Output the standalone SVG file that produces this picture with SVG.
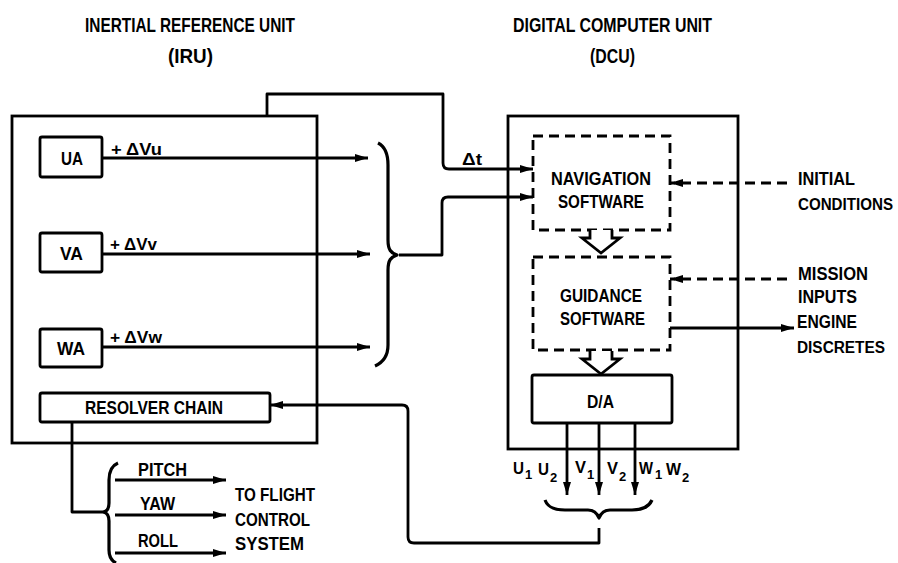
<svg xmlns="http://www.w3.org/2000/svg" width="898" height="563" viewBox="0 0 898 563">
<defs>
<style>
.t{font-family:"Liberation Sans",Arial,sans-serif;font-weight:bold;fill:#000;}
.big{font-size:20px;}
.lb{font-size:19px;}
.md{font-size:16px;}
.sm{font-size:17px;}
.ol{font-size:17px;}
.sub{font-size:13px;}
.box{fill:none;stroke:#000;stroke-width:2.8;}
.dbox{fill:none;stroke:#000;stroke-width:2.8;stroke-dasharray:10 6;}
.ln{fill:none;stroke:#000;stroke-width:2.8;stroke-linejoin:round;}
.dl{fill:none;stroke:#000;stroke-width:2.8;stroke-dasharray:10 6;}
.br{fill:none;stroke:#000;stroke-width:3.2;stroke-linejoin:round;}
.ha{fill:#fff;stroke:#000;stroke-width:2.8;stroke-linejoin:miter;}
</style>
<marker id="ah" markerUnits="userSpaceOnUse" markerWidth="14" markerHeight="10" refX="13" refY="4" orient="auto">
<path d="M0,0 L13,4 L0,8 z" fill="#000"/>
</marker>
</defs>
<rect width="898" height="563" fill="#fff"/>

<g id="titles">
<text class="t big" x="85" y="32" textLength="210" lengthAdjust="spacingAndGlyphs">INERTIAL REFERENCE UNIT</text>
<text class="t big" x="168" y="63" textLength="45" lengthAdjust="spacingAndGlyphs">(IRU)</text>
<text class="t big" x="513" y="32" textLength="199" lengthAdjust="spacingAndGlyphs">DIGITAL COMPUTER UNIT</text>
<text class="t big" x="590" y="63" textLength="45" lengthAdjust="spacingAndGlyphs">(DCU)</text>
</g>

<g id="iru">
<rect class="box" x="12" y="116" width="305" height="327"/>
</g>
<g id="ua">
<rect class="box" x="40" y="137" width="62" height="40" rx="2"/>
<text class="t lb" x="61" y="165" textLength="22" lengthAdjust="spacingAndGlyphs">UA</text>
</g>
<g id="va">
<rect class="box" x="40" y="233" width="62" height="39" rx="2"/>
<text class="t lb" x="60" y="260" textLength="23" lengthAdjust="spacingAndGlyphs">VA</text>
</g>
<g id="wa">
<rect class="box" x="40" y="329" width="62" height="38" rx="2"/>
<text class="t lb" x="57" y="355" textLength="28" lengthAdjust="spacingAndGlyphs">WA</text>
</g>
<g id="resolver">
<rect class="box" x="40" y="393" width="230" height="29" rx="2"/>
<text class="t lb" x="85" y="414" textLength="138" lengthAdjust="spacingAndGlyphs">RESOLVER CHAIN</text>
</g>

<g id="dcu">
<rect class="box" x="508" y="116" width="230" height="333"/>
</g>
<g id="nav">
<rect class="dbox" x="533" y="136" width="137" height="94"/>
<text class="t lb" x="551" y="185" textLength="100" lengthAdjust="spacingAndGlyphs">NAVIGATION</text>
<text class="t lb" x="558" y="208" textLength="86" lengthAdjust="spacingAndGlyphs">SOFTWARE</text>
</g>
<g id="guidance">
<rect class="dbox" x="533" y="257" width="137" height="93"/>
<text class="t lb" x="560" y="302" textLength="82" lengthAdjust="spacingAndGlyphs">GUIDANCE</text>
<text class="t lb" x="560" y="325" textLength="85" lengthAdjust="spacingAndGlyphs">SOFTWARE</text>
</g>
<g id="da">
<rect class="box" x="532" y="375" width="140" height="48" rx="2"/>
<text class="t lb" x="587" y="408" textLength="27" lengthAdjust="spacingAndGlyphs">D/A</text>
</g>

<g id="external-labels">
<text class="t lb" x="798" y="185" textLength="57" lengthAdjust="spacingAndGlyphs">INITIAL</text>
<text class="t md" x="798" y="210" textLength="95" lengthAdjust="spacingAndGlyphs">CONDITIONS</text>
<text class="t lb" x="798" y="280" textLength="70" lengthAdjust="spacingAndGlyphs">MISSION</text>
<text class="t lb" x="798" y="303" textLength="59" lengthAdjust="spacingAndGlyphs">INPUTS</text>
<text class="t lb" x="797" y="328" textLength="60" lengthAdjust="spacingAndGlyphs">ENGINE</text>
<text class="t md" x="797" y="353" textLength="88" lengthAdjust="spacingAndGlyphs">DISCRETES</text>
<text class="t lb" x="235" y="501" textLength="80" lengthAdjust="spacingAndGlyphs">TO FLIGHT</text>
<text class="t lb" x="235" y="526" textLength="75" lengthAdjust="spacingAndGlyphs">CONTROL</text>
<text class="t lb" x="235" y="550" textLength="69" lengthAdjust="spacingAndGlyphs">SYSTEM</text>
</g>

<g id="connectors">
<!-- accelerometer outputs -->
<path class="ln" d="M102,158 H368" marker-end="url(#ah)"/>
<path class="ln" d="M102,254 H370" marker-end="url(#ah)"/>
<path class="ln" d="M102,347 H370" marker-end="url(#ah)"/>
<text class="t sm" x="111" y="155" textLength="51" lengthAdjust="spacingAndGlyphs">+ ΔVu</text>
<text class="t sm" x="110" y="250" textLength="47" lengthAdjust="spacingAndGlyphs">+ ΔVv</text>
<text class="t sm" x="110" y="343" textLength="52" lengthAdjust="spacingAndGlyphs">+ ΔVw</text>
<!-- brace -->
<path class="br" d="M378,143 C386,147 388,155 388,165 L388,240 C388,250 391,253 397,255 C391,257 388,260 388,270 L388,345 C388,355 384,362 375,366"/>
<!-- delta t loop -->
<path class="ln" d="M267,116 V94 H443 V163 Q443,169 449,169 H533" marker-end="url(#ah)"/>
<text class="t sm" x="462" y="165" textLength="20" lengthAdjust="spacingAndGlyphs">Δt</text>
<!-- brace to navigation -->
<path class="ln" d="M399,255 H442 V203 Q442,197 448,197 H533" marker-end="url(#ah)"/>
<!-- external inputs -->
<path class="dl" d="M787,183 H670" marker-end="url(#ah)"/>
<path class="dl" d="M787,279 H670" marker-end="url(#ah)"/>
<path class="ln" d="M670,328 H794" marker-end="url(#ah)"/>
<!-- hollow arrows -->
<path class="ha" d="M590,230 V238 H582 L601,253 L620,238 H612 V230"/>
<path class="ha" d="M590,351 V359 H582 L601,374 L620,359 H612 V351"/>
<!-- D/A outputs -->
<path class="ln" d="M567,423 V495" marker-end="url(#ah)"/>
<path class="ln" d="M599,423 V495" marker-end="url(#ah)"/>
<path class="ln" d="M635,423 V495" marker-end="url(#ah)"/>
<path class="br" d="M545,500 C548,508 555,510 565,510 L588,510 C594,510 597,513 599,518 C601,513 604,510 610,510 L632,510 C642,510 649,507 652,500"/>
<!-- back to resolver chain -->
<path class="ln" d="M599,528 V543 H414 Q408,543 408,537 V411 Q408,405 402,405 H270" marker-end="url(#ah)"/>
<!-- resolver to flight control -->
<path class="ln" d="M72,422 V512 H105"/>
<path class="br" d="M118,463 C111,466 109,472 109,480 L109,503 C109,509 107,511 104,512 C107,513 109,515 109,521 L109,550 C109,557 112,561 116,563"/>
<path class="ln" d="M115,480 H226" marker-end="url(#ah)"/>
<path class="ln" d="M115,515 H226" marker-end="url(#ah)"/>
<path class="ln" d="M115,553 H226" marker-end="url(#ah)"/>
<text class="t lb" x="138" y="476" textLength="49" lengthAdjust="spacingAndGlyphs">PITCH</text>
<text class="t lb" x="140" y="510" textLength="35" lengthAdjust="spacingAndGlyphs">YAW</text>
<text class="t lb" x="138" y="547" textLength="40" lengthAdjust="spacingAndGlyphs">ROLL</text>
<!-- output labels -->
<text class="t ol" x="513" y="474" textLength="11" lengthAdjust="spacingAndGlyphs">U</text>
<text class="t sub" x="525" y="479">1</text>
<text class="t ol" x="538" y="475" textLength="11" lengthAdjust="spacingAndGlyphs">U</text>
<text class="t sub" x="550" y="482">2</text>
<text class="t ol" x="575" y="473" textLength="11" lengthAdjust="spacingAndGlyphs">V</text>
<text class="t sub" x="587" y="479">1</text>
<text class="t ol" x="607" y="474" textLength="11" lengthAdjust="spacingAndGlyphs">V</text>
<text class="t sub" x="619" y="481">2</text>
<text class="t ol" x="639" y="474" textLength="14" lengthAdjust="spacingAndGlyphs">W</text>
<text class="t sub" x="655" y="479">1</text>
<text class="t ol" x="666" y="475" textLength="15" lengthAdjust="spacingAndGlyphs">W</text>
<text class="t sub" x="682" y="482">2</text>
</g>
</svg>
